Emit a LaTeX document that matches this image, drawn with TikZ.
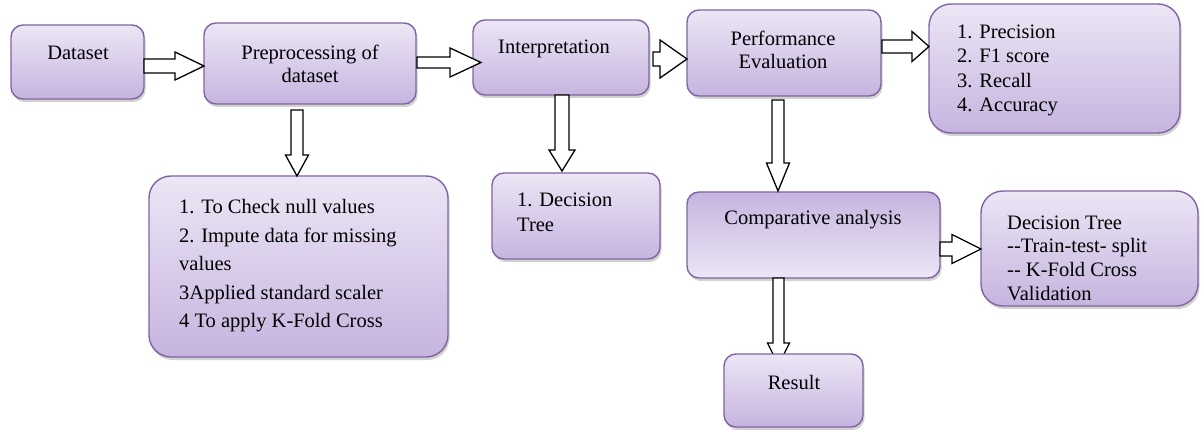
\documentclass[tikz,border=0pt]{standalone}
\usepackage{fontspec}
\setmainfont{LiberationSerif}[Extension=.ttf, UprightFont=*-Regular, BoldFont=*-Bold, ItalicFont=*-Italic, BoldItalicFont=*-BoldItalic]
\usetikzlibrary{shadows,calc}
\definecolor{boxborder}{HTML}{8064A2}
\definecolor{boxtop}{HTML}{ECE6F5}
\definecolor{boxbot}{HTML}{C6B4DF}
\tikzset{
  box/.style={draw=boxborder, line width=1.4pt, rounded corners=12pt,
    top color=boxtop, bottom color=boxbot, inner sep=0pt, outer sep=0pt,
    drop shadow={opacity=0.35, shadow xshift=1.5pt, shadow yshift=-3pt}},
  bigbox/.style={box, rounded corners=22pt},
  revbox/.style={box, top color=boxbot, bottom color=boxtop},
  blk/.style={draw=black, fill=white, line width=1.3pt, line join=miter},
  txt/.style={inner sep=0pt, font=\fontsize{20.5}{23}\selectfont, text=black},
}
\newcommand\blockR[5]{\draw[blk] let \p1=(#1), \p2=(#2) in
  (\x1,\y1+#3) -- (\x2-#5,\y1+#3) -- (\x2-#5,\y1+#4) -- (\x2,\y1) --
  (\x2-#5,\y1-#4) -- (\x2-#5,\y1-#3) -- (\x1,\y1-#3) -- cycle;}
\newcommand\blockD[5]{\draw[blk] let \p1=(#1), \p2=(#2) in
  (\x1-#3,\y1) -- (\x1-#3,\y2+#5) -- (\x1-#4,\y2+#5) -- (\x1,\y2) --
  (\x1+#4,\y2+#5) -- (\x1+#3,\y2+#5) -- (\x1+#3,\y1) -- cycle;}
\newcommand\dd{\mbox{-}\mbox{-}}
\begin{document}
\begin{tikzpicture}[x=1pt,y=-1pt]
\useasboundingbox[fill=white] (0,0) rectangle (1202,430);
% boxes
\node[box, minimum width=133pt, minimum height=74pt] (dataset) at (77.5,62) {};
\node[box, minimum width=212pt, minimum height=81pt] (prep) at (310,63.5) {};
\node[box, minimum width=176pt, minimum height=75pt] (interp) at (561,57.5) {};
\node[box, minimum width=194pt, minimum height=86pt] (perf) at (784,53) {};
\node[bigbox, minimum width=251pt, minimum height=129pt] (metrics) at (1054.5,68.5) {};
\node[bigbox, minimum width=299pt, minimum height=181pt] (nullbox) at (298.5,266.5) {};
\node[box, minimum width=168pt, minimum height=86pt] (dtbox) at (576,216) {};
\node[revbox, minimum width=253pt, minimum height=86pt] (comp) at (813.5,235) {};
\node[bigbox, minimum width=217pt, minimum height=115pt] (dtright) at (1089.5,248.5) {};
% arrow whose tip is hidden under the result box
\coordinate (result-tip) at (778.5,365);
\blockD{$(comp.south)+(-35,0)$}{result-tip}{5.5pt}{11pt}{22pt}
\node[box, minimum width=139pt, minimum height=73pt] (result) at (793.5,390.5) {};
% texts
\node[txt] (t-dataset) at (78,53) {Dataset};
\node[txt, align=center] (t-prep) at (310,63.5) {Preprocessing of\\dataset};
\node[txt] (t-interp) at (554,49) {Interpretation};
\node[txt, align=center] (t-perf) at (783,50) {Performance\\Evaluation};
\node[txt, align=left, anchor=west, font=\fontsize{20.5}{24.3}\selectfont] (t-metrics) at (957,70.5) {1. Precision\\2. F1 score\\3. Recall\\4. Accuracy};
\node[txt, align=left, anchor=west, font=\fontsize{20.5}{28.5}\selectfont] (t-null) at (179,266) {1. To Check null values\\2. Impute data for missing\\values\\3Applied standard scaler\\4 To apply K-Fold Cross};
\node[txt, align=left, anchor=west, font=\fontsize{20.5}{25}\selectfont] (t-dt) at (517,212.5) {1. Decision\\Tree};
\node[txt] (t-comp) at (813,220) {Comparative analysis};
\node[txt, align=left, anchor=west, font=\fontsize{20.5}{23.7}\selectfont] (t-dtr) at (1007,258) {Decision Tree\\\dd Train-test- split\\\dd{} K-Fold Cross\\Validation};
\node[txt] (t-result) at (794,382) {Result};
% block arrows
\blockR{$(dataset.east)+(0,4)$}{prep.west}{7pt}{14pt}{29pt}
\blockR{$(prep.east)+(1,-1)$}{$(interp.west)+(8,0)$}{5.5pt}{14.5pt}{31pt}
\blockR{$(interp.east)+(4,1.5)$}{perf.west}{7pt}{19pt}{27pt}
\blockR{$(perf.east)+(1,-6.5)$}{metrics.west}{6.5pt}{15pt}{17pt}
\blockR{$(comp.east)+(0,14)$}{dtright.west}{7pt}{14.5pt}{29pt}
\blockD{$(prep.south)+(-13,6)$}{nullbox.north}{6pt}{11.5pt}{21pt}
\blockD{$(interp.south)+(1,0)$}{$(dtbox.north)+(0,-2)$}{7pt}{13pt}{21pt}
\blockD{$(perf.south)+(-6,4)$}{$(comp.north)+(0,-1)$}{6pt}{11.5pt}{28pt}
\end{tikzpicture}
\end{document}
